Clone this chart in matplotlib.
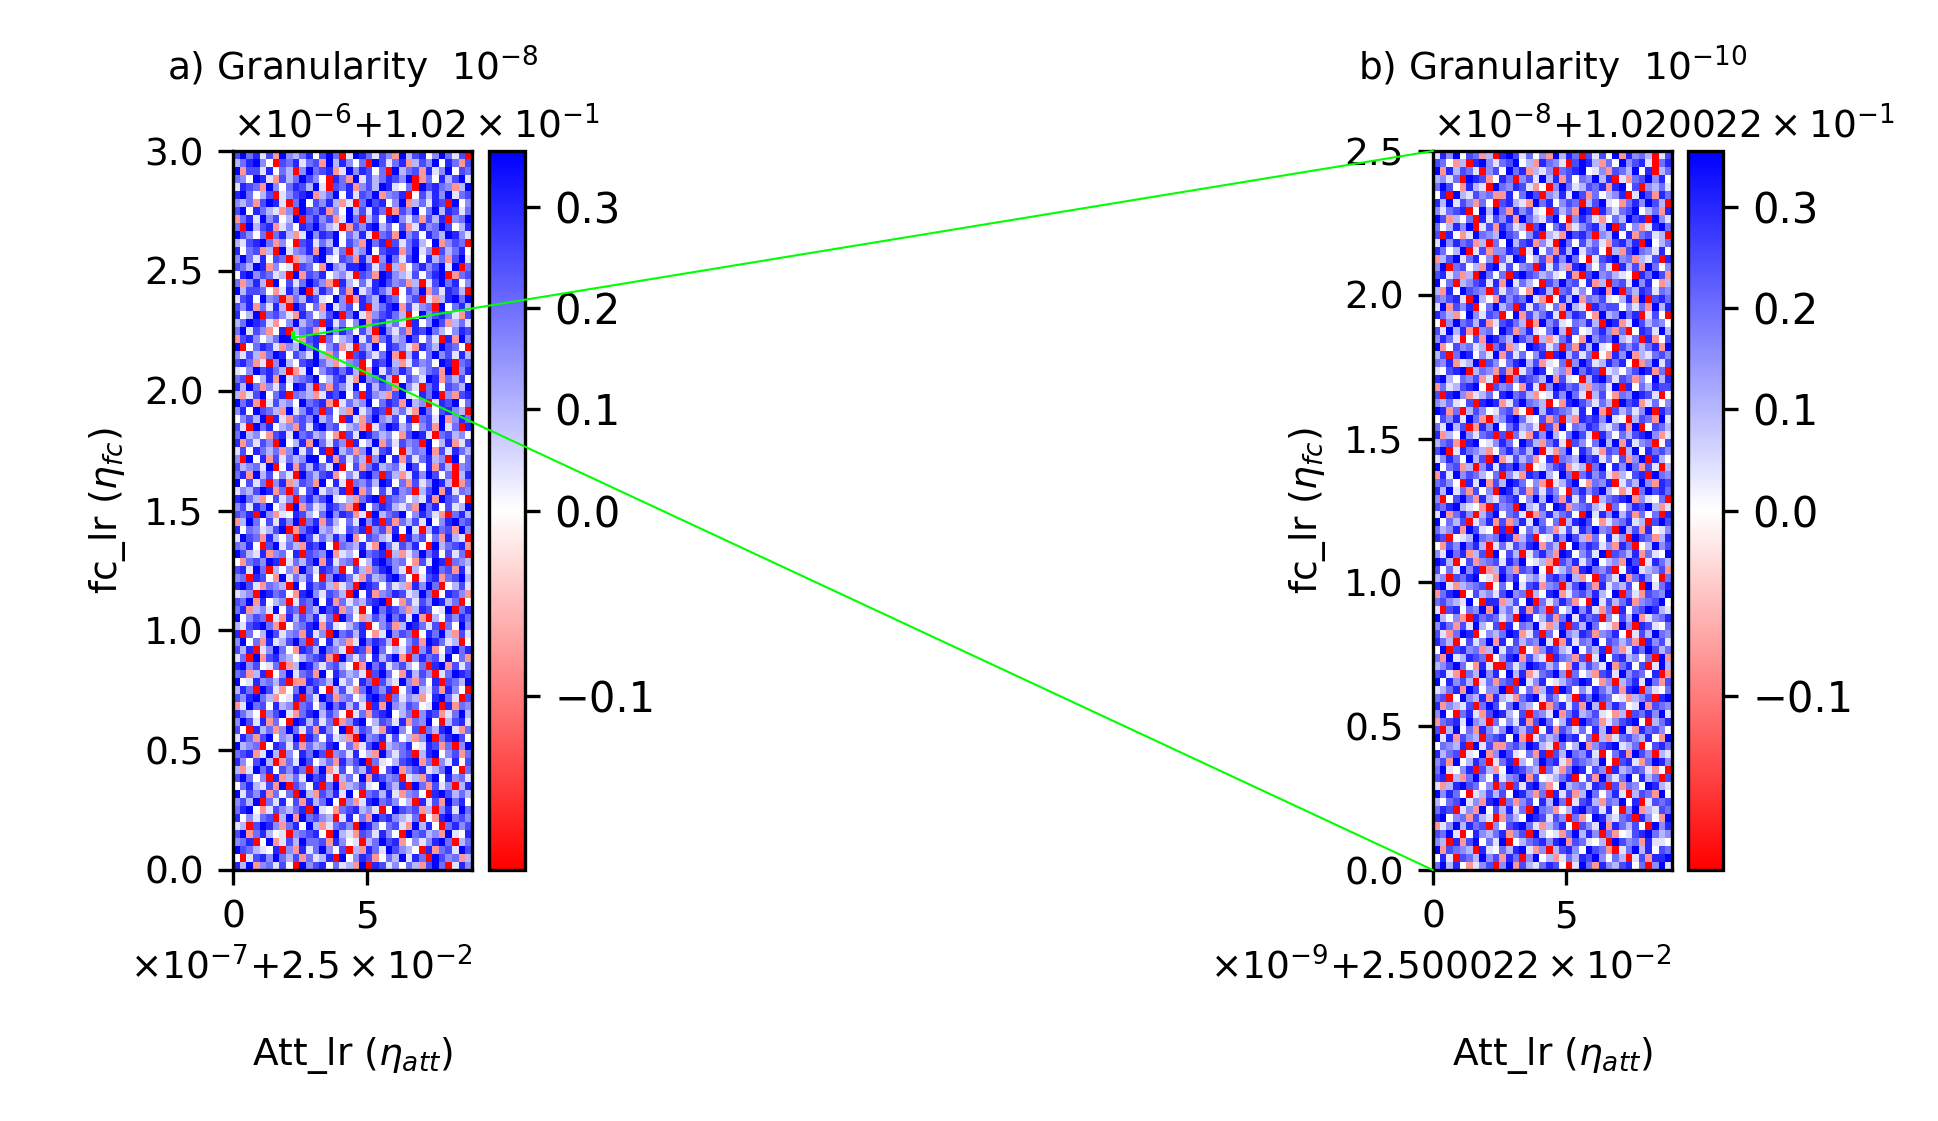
#!/usr/bin/env python3
import numpy as np
import matplotlib
matplotlib.use("Agg")
import matplotlib.pyplot as plt
from matplotlib.colors import TwoSlopeNorm
from matplotlib.patches import ConnectionPatch, Rectangle
from matplotlib.ticker import FixedFormatter, FixedLocator

# colour level of each digit in the hand-typed grids below
levels = [-0.19, -0.08, 0.0, 0.04, 0.10, 0.16, 0.20, 0.25, 0.30, 0.35]

# coarse estimate of the texture, top row first
grid_a = [
    "796837195468279603986375194782596370",
    "468952076836719485260973681475928617",
    "917738264059678139587260946718359276",
    "652983174697520861937468759016284793",
    "387619526874930768157498326097865149",
    "896247035789146928376915680274859367",
    "546179830692758413069782591463870925",
    "792864315097681529473860175926948736",
    "168395724906857139604728953617480569",
    "609478135287964301758946271385697248",
    "975260684139587926483067195728649853",
    "437896152078364927519680736842915760",
    "826714093568197360459278816935074682",
    "596382760145893276184059637928461793",
    "764981523076219548897360412685793906",
    "289576340917682453076198543726890167",
    "615840927369751084263897561403796825",
    "947762138590486271935864027591638740",
    "378295601648732950186497625703148969",
    "758163840972619357280468917356092684",
    "824906753186247906931578640295786317",
    "469873125946708362591784630825971463",
    "693751280467139586274095361879642587",
    "178524699317806245937168459726308195",
    "902687315496825713064928753186497620",
    "537416982753941620785369104826957384",
    "786130594278964135602879413756298067",
    "325978640139257868401937586246719058",
    "670248193567924783195684027539816472",
    "849615372984061753928476195306827649",
    "413792680654138792608541793286905178",
    "968103745296781036459268719450387926",
    "582976419358607241935870463196278540",
    "257490831675946208316954728067391586",
    "730968245173896724510369846257193608",
    "694521783967452107398645217983067452",
    "816375092481963750824916375609248137",
    "372864615937280946159378204659173864",
    "509281736459928173640592817368450926",
    "745639028174863902716845639728174056",
    "681947253096478125389607413859726048",
    "927360581476192830657498261735984016",
    "354798160627935480916273856047918365",
    "896412735068579324168907652438197620",
    "573869240916348751092687435196827349",
    "768095132874269587130946792586310684",
    "149627385906817426395807164739258967",
    "826534790168945327680571829304867195",
    "397618425097364859127643908572618430",
    "658207936418792065483196375820946781",
    "974381562807659134296780413596827360",
    "216759803647918356024897562173980654",
    "783960425196387502741689530428967183",
    "560872193647205986317458962037816794",
    "897316540928674135098726341859602473",
    "345098672189537640928156873496028751",
    "769182450376928163547890216375984602",
    "681453927606497815302968751487239068",
    "925760318475836096214759683910427586",
    "437896102568917324680257149863706295",
    "806249735618350967482139576028694173",
    "592618347960728451396874025719863402",
    "748035962187496530871962436058127968",
    "360917854246781095362847910586739261",
    "895723601498536742019683574260891736",
    "671480259367192864530796218475036987",
    "923856470118764935286074395162807649",
    "486097312695820473169758026943718520",
    "758964123806397156248970635412896307",
    "139672845067259684730819547623908165",
    "864205793168947520361789246058713694",
    "597381620984736015892476381659204783",
    "720846159637185290476318952706489316",
    "386179254908627341095683724159068972",
    "945602873716458926137904568238716059",
    "678139405286970563824195367048925716",
    "852794016397246185790632478916053827",
    "413968275860591372648027915783469206",
    "796250814639783046291875603417928563",
    "268437190752806914573296480961735048",
    "937581626094175839206748315620897464",
    "574906382718469205138967524083719682",
    "689213754680932167845302976714058396",
    "825367049196754038261978543602189675",
    "340798516829413675098526731948206857",
    "791684230567820943176385209674519328",
    "568029137496671852304697812535896046",
    "976432805183695270418639754208167397",
    "203785964716348092587126493860975614",
    "849156372095782634190873526417960385",
]
grid_b = [
    "385927614089736251948607372918564037",
    "762140895367924186530798416295783068",
    "918476305729681435067892351764928046",
    "453609871286057394817265948031679582",
    "697218430965873120596347681892705463",
    "280943756118269705483971624580397186",
    "849375162078431968257604793216859740",
    "536780294961857320746198085367924618",
    "971426083758196437920586312649780953",
    "624859037186340792681357849072513896",
    "708213965497625804319786054928167340",
    "395867140629478153096274631785809246",
    "862490371558703926184936720417965382",
    "147936825063982471859620378956143708",
    "590672418937256083741895263084719625",
    "783514096260897645328107956432086971",
    "926045783819364207596728140673958214",
    "418297650736521984067352891906487365",
    "657830942185769310284916573248190786",
    "391758026946083752619430867725361948",
    "864129537602917468305872194596803720",
    "205967481378640195732658409813974652",
    "739481056297158326940723685160287394",
    "586302719864975041368219576943608127",
    "912756340681429873506184932075746819",
    "470698253917362580894736021859143675",
    "658134907526894713260597348682015937",
    "327890465171036982451968703425798160",
    "894265713090587649173204896376152948",
    "163478920756218305986741563908264877",
    "708951346289674123859630472165987302",
    "546327089813796540218975364097813625",
    "981604752367120948765382910746359086",
    "275839610458963271604187859320476193",
    "639470185926845307192658743581902764",
    "814295367070631859426973085264789513",
    "467108923586297416830752694918356027",
    "790386541268574903159286317604928675",
    "358629470913746128065497836271590842",
    "926714058387960235781340692859617304",
    "183957642605318794296068573142780965",
    "675208391749862510347921658036495187",
    "849361725098471637520685794213069786",
    "502796184367825949618372046789153260",
    "768943210856094372981567430625879413",
    "391685047926730158467209385947162608",
    "926470358171583962604897213568340797",
    "645819732080926475137386956094718235",
    "870234965698147023859741628350976148",
    "217596840363758916402968735186024957",
    "539681470927403685198257390764816329",
    "984027156738692341075836924519703864",
    "726395801485176920346189657028934571",
    "450768923196824537869412075391685206",
    "893145670262937815604796183547209368",
    "168902745379560428913675842906317659",
    "675439208814729063586120937468156792",
    "307826591946381750724958316082679843",
    "942510867635098247169386705274913568",
    "586173942708265931480749623195087326",
    "731698025469813706295487156820374965",
    "864027359182746593018365927646108573",
    "290785614937602158743926480513869746",
    "619348760258917430865170392784526091",
    "457962183006359874621847539168270394",
    "783106495829481367950624178395762801",
    "928574036167093582346798215046839617",
    "346819725590726148097253864718905326",
    "670295481843168937524086976231457089",
    "815437069726954201683719405862391765",
    "592068317984270653916845732140768593",
    "167839540625381796248097613578920468",
    "704926185359647028175362849093186752",
    "938175406782910364597826041367548219",
    "265480937116759843062491578934602786",
    "846703291597326180749658302681975043",
    "571924860368042597831765492078316985",
    "693258074129875406316982750845763120",
    "780416952835691723468027195369284607",
    "314897625060738951294563870716529843",
    "958620347472985160837149625830476192",
    "426793518906157284960378416592803767",
    "687035192748360965124896738205914376",
    "892561743016429873750612984367085219",
    "135948670527896314682075391864720958",
    "769302854681570942316948506123789645",
    "540817926390246785891763240975618332",
    "917654083264893150478529761036948276",
    "283076495718605924136487952640371889",
    "694821357059174368720396185478260593",
]

# tick values and offset texts as printed on the axes
att_ticks = [0, 5]
fc_ticks_a = [0.0, 0.5, 1.0, 1.5, 2.0, 2.5, 3.0]
fc_ticks_b = [0.0, 0.5, 1.0, 1.5, 2.0, 2.5]
att_offset_a = r"$\times\mathdefault{10^{-7}}\mathdefault{+2.5\times10^{-2}}$"
fc_offset_a = r"$\times\mathdefault{10^{-6}}\mathdefault{+1.02\times10^{-1}}$"
att_offset_b = r"$\times\mathdefault{10^{-9}}\mathdefault{+2.500022\times10^{-2}}$"
fc_offset_b = r"$\times\mathdefault{10^{-8}}\mathdefault{+1.020022\times10^{-1}}$"

# axis origins and spans, the printed offsets are rounded
att_start_a, att_span_a, att_unit_a = 0.025, 8.95e-7, 1e-7
fc_start_a, fc_span_a, fc_unit_a = 0.102, 3.0e-6, 1e-6
att_start_b, att_span_b, att_unit_b = 0.02500022, 9.0e-9, 1e-9
fc_start_b, fc_span_b, fc_unit_b = 0.10200222, 2.5e-8, 1e-8

vmin, vmax = -0.194, 0.355
cbar_ticks = [-0.1, 0.0, 0.1, 0.2, 0.3]

W, H = 1939, 1121
FS = 9


def rect(x0, x1, top, bottom):
    return [x0 / W, 1 - bottom / H, (x1 - x0) / W, (bottom - top) / H]


def to_array(rows):
    width = min(len(r) for r in rows)
    return np.array([[levels[int(c)] for c in r[:width]] for r in rows])[::-1]


def set_axis(axis, start, unit, ticks, offset):
    axis.set_major_locator(FixedLocator([start + t * unit for t in ticks]))
    fmt = FixedFormatter([f"{t:g}" if isinstance(t, int) else f"{t:.1f}" for t in ticks])
    fmt.set_offset_string(offset)
    axis.set_major_formatter(fmt)
    axis.get_offset_text().set_fontsize(FS)


def draw_panel(fig, pos, cpos, rows, att, fc, fc_ticks, offsets, title):
    ax = fig.add_axes(pos)
    cax = fig.add_axes(cpos)
    z = to_array(rows)
    xs = att[0] + att[1] * np.arange(z.shape[1] + 1) / z.shape[1]
    ys = fc[0] + fc[1] * np.arange(z.shape[0] + 1) / z.shape[0]
    norm = TwoSlopeNorm(vmin=vmin, vcenter=0.0, vmax=vmax)
    mesh = ax.pcolormesh(xs, ys, z, cmap="bwr_r", norm=norm, rasterized=True)
    ax.set_xlim(att[0], att[0] + att[1])
    ax.set_ylim(fc[0], fc[0] + fc[1])
    set_axis(ax.xaxis, att[0], att[2], att_ticks, offsets[0])
    set_axis(ax.yaxis, fc[0], fc[2], fc_ticks, offsets[1])
    ax.tick_params(labelsize=FS)
    ax.set_xlabel(r"Att_lr ($\eta_{att}$)", fontsize=FS, labelpad=24)
    ax.set_ylabel(r"fc_lr ($\eta_{fc}$)", fontsize=FS, labelpad=4)
    ax.set_title(title, fontsize=FS, pad=17)
    cb = fig.colorbar(mesh, cax=cax, ticks=cbar_ticks)
    cb.ax.tick_params(labelsize=10)
    return ax


fig = plt.figure(figsize=(W / 300, H / 300), dpi=300)
ax_a = draw_panel(fig, rect(233, 472, 151, 870), rect(489, 525, 151, 870), grid_a,
                  (att_start_a, att_span_a, att_unit_a), (fc_start_a, fc_span_a, fc_unit_a),
                  fc_ticks_a, (att_offset_a, fc_offset_a), r"a) Granularity  $10^{-8}$")
ax_b = draw_panel(fig, rect(1433, 1672, 151, 870), rect(1688, 1723, 151, 870), grid_b,
                  (att_start_b, att_span_b, att_unit_b), (fc_start_b, fc_span_b, fc_unit_b),
                  fc_ticks_b, (att_offset_b, fc_offset_b), r"b) Granularity  $10^{-10}$")

# zoom marker on panel a, joined to the corners of panel b
ax_a.add_patch(Rectangle((att_start_b, fc_start_b), att_span_b, fc_span_b,
                         fill=False, edgecolor="lime", linewidth=0.5))
for y_b in (fc_start_b, fc_start_b + fc_span_b):
    fig.add_artist(ConnectionPatch(xyA=(att_start_b, fc_start_b), coordsA=ax_a.transData,
                                   xyB=(att_start_b, y_b), coordsB=ax_b.transData,
                                   color="lime", linewidth=0.5))

fig.savefig("out.png", dpi=300)
